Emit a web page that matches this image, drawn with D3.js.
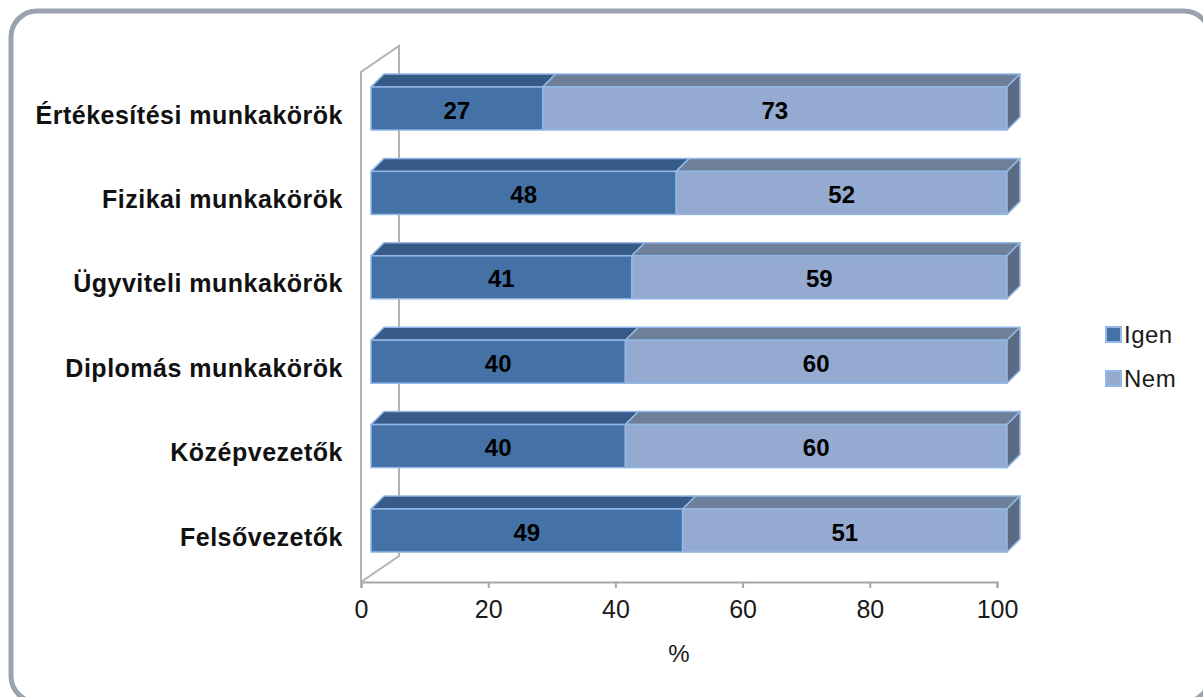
<!DOCTYPE html>
<html>
<head>
<meta charset="utf-8">
<script src="https://cdn.jsdelivr.net/npm/d3@7/dist/d3.min.js"></script>
<style>
  html, body { margin: 0; padding: 0; background: #fff; }
  svg { display: block; font-family: "Liberation Sans", Arial, sans-serif; }
</style>
</head>
<body>
<svg id="chart" width="1203" height="697"></svg>
<script>
// Job categories (top to bottom) and the share of each answer, in %
const categories = [
  "Értékesítési munkakörök",
  "Fizikai munkakörök",
  "Ügyviteli munkakörök",
  "Diplomás munkakörök",
  "Középvezetők",
  "Felsővezetők"
];
const igenValues = [27, 48, 41, 40, 40, 49];
const nemValues  = [73, 52, 59, 60, 60, 51];
const seriesNames = ["Igen", "Nem"];
const xTicks = [0, 20, 40, 60, 80, 100];
const axisTitle = "%";

const svg = d3.select("#chart");

// rounded outer frame (runs past the right and bottom edges)
svg.append("rect")
  .attr("x", 11).attr("y", 11)
  .attr("width", 1199).attr("height", 691)
  .attr("rx", 26).attr("ry", 26)
  .attr("fill", "#fff")
  .attr("stroke", "#9aa3ad")
  .attr("stroke-width", 5);

// scales
const x = d3.scaleLinear().domain([0, 100]).range([361, 997]);
const y = d3.scaleBand()
  .domain(categories)
  .range([66.3, 572.7])
  .paddingInner(0.49)
  .paddingOuter(0.245);

const wallTop = 72, floorY = 582;
const wallDx = 38, wallDy = 26;     // depth of the 3D box
const barOff = 10;                  // bars sit a little into the depth
const barDx = 13, barDy = 13;       // bar thickness in depth

const colors = {
  Igen: { front: "#4471a6", top: "#365b88" },
  Nem:  { front: "#94aad1", top: "#6e7f9a", side: "#5c6b84" }
};
const edge = "#93b8e6";

// side wall of the 3D plot area
const wall = svg.append("g")
  .attr("fill", "none")
  .attr("stroke", "#b3b3b3")
  .attr("stroke-width", 2);
wall.append("path").attr("d",
  `M${x(0)},${floorY} L${x(0)},${wallTop} L${x(0) + wallDx},${wallTop - wallDy} L${x(0) + wallDx},${floorY - wallDy} L${x(0)},${floorY}`);

// bars
const rows = categories.map((c, i) => ({ cat: c, igen: igenValues[i], nem: nemValues[i] }));
const bars = svg.append("g");
rows.forEach(r => {
  const y0 = y(r.cat), h = y.bandwidth();
  const segs = [
    { name: "Igen", from: 0, to: r.igen },
    { name: "Nem", from: r.igen, to: r.igen + r.nem }
  ];
  segs.forEach(s => {
    const x0 = x(s.from) + barOff, x1 = x(s.to) + barOff;
    // top face
    bars.append("path")
      .attr("d", `M${x0},${y0} L${x0 + barDx},${y0 - barDy} L${x1 + barDx},${y0 - barDy} L${x1},${y0} Z`)
      .attr("fill", colors[s.name].top)
      .attr("stroke", edge).attr("stroke-width", 1.5).attr("stroke-linejoin", "round");
    // front face
    bars.append("rect")
      .attr("x", x0).attr("y", y0)
      .attr("width", x1 - x0).attr("height", h)
      .attr("fill", colors[s.name].front)
      .attr("stroke", edge).attr("stroke-width", 1.5);
  });
  // end cap of the stacked bar
  const xe = x(r.igen + r.nem) + barOff;
  bars.append("path")
    .attr("d", `M${xe},${y0} L${xe + barDx},${y0 - barDy} L${xe + barDx},${y0 + h - barDy} L${xe},${y0 + h} Z`)
    .attr("fill", colors.Nem.side)
    .attr("stroke", edge).attr("stroke-width", 1.5).attr("stroke-linejoin", "round");

  // value labels
  segs.forEach(s => {
    bars.append("text")
      .attr("x", (x(s.from) + x(s.to)) / 2 + barOff)
      .attr("y", y0 + h / 2 + 10)
      .attr("text-anchor", "middle")
      .attr("font-size", 24).attr("font-weight", "bold")
      .attr("fill", "#000")
      .text(s.to - s.from);
  });
});

// x axis
const xAxis = d3.axisBottom(x).tickValues(xTicks).tickSize(6).tickPadding(12);
const ax = svg.append("g")
  .attr("transform", `translate(0,${floorY})`)
  .call(xAxis);
ax.select(".domain").attr("stroke", "#a6a6a6").attr("stroke-width", 2);
ax.selectAll(".tick line").attr("stroke", "#a6a6a6").attr("stroke-width", 2);
ax.selectAll(".tick text")
  .attr("font-size", 25)
  .attr("font-family", "'Liberation Sans', Arial, sans-serif")
  .attr("fill", "#1a1a1a");

svg.append("text")
  .attr("x", (x(0) + x(100)) / 2).attr("y", 662)
  .attr("text-anchor", "middle")
  .attr("font-size", 24).attr("fill", "#1a1a1a")
  .text(axisTitle);

// category labels
svg.append("g").selectAll("text")
  .data(categories)
  .join("text")
  .attr("x", 343)
  .attr("y", d => y(d) + y.bandwidth() / 2 + 15)
  .attr("text-anchor", "end")
  .attr("font-size", 25).attr("font-weight", "bold")
  .attr("letter-spacing", 0.5)
  .attr("fill", "#111")
  .text(d => d);

// legend
const legend = svg.append("g");
seriesNames.forEach((n, i) => {
  const ly = 327 + i * 44;
  legend.append("rect")
    .attr("x", 1106).attr("y", ly)
    .attr("width", 15).attr("height", 15)
    .attr("fill", colors[n].front)
    .attr("stroke", edge).attr("stroke-width", 2);
  legend.append("text")
    .attr("x", 1124).attr("y", ly + 16)
    .attr("font-size", 24).attr("fill", "#1a1a1a")
    .attr("letter-spacing", 0.5)
    .text(n);
});
</script>
</body>
</html>
